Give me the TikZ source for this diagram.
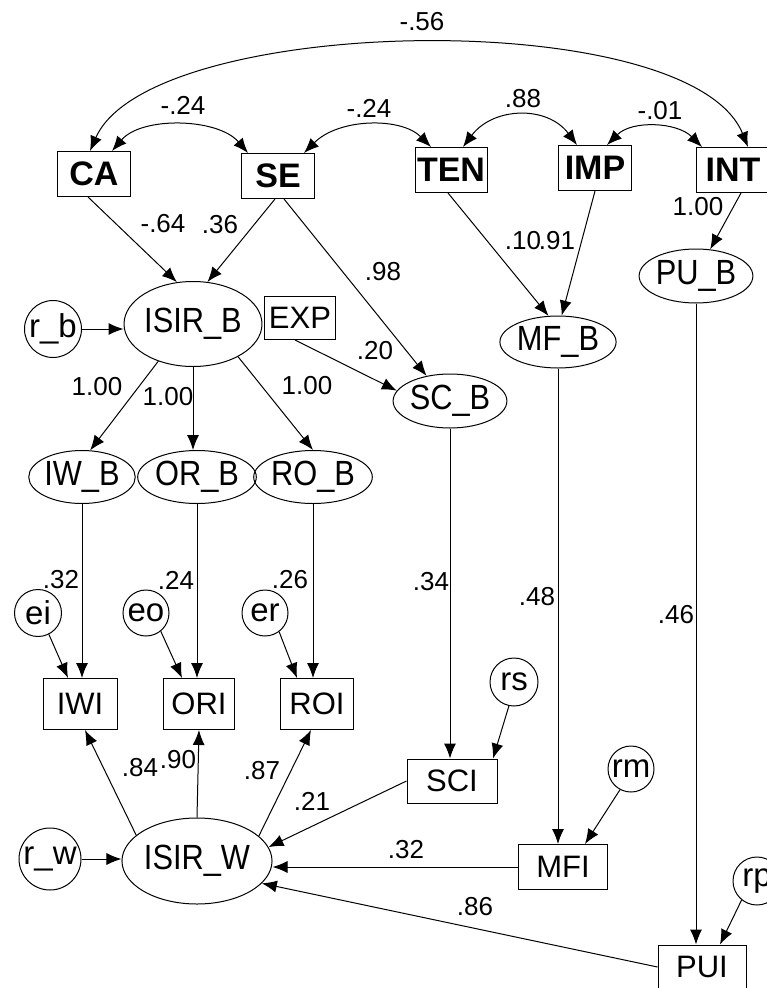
\documentclass[tikz,border=0pt]{standalone}
\usepackage{fontspec}
\setmainfont{Liberation Sans}
\newfontfamily\narrowfont[FakeStretch=0.88]{Liberation Sans}
\usetikzlibrary{arrows.meta,shapes.geometric}
\begin{document}
\begin{tikzpicture}[x=1pt,y=-1pt,
 line width=1pt,
 >={Latex[length=15pt,width=12pt]},
 obsb/.style={draw,rectangle,inner sep=0pt,font=\bfseries\fontsize{34}{34}\selectfont},
 obs/.style={draw,rectangle,inner sep=0pt,font=\fontsize{31}{31}\selectfont},
 lat/.style={draw,ellipse,inner sep=0pt,font=\narrowfont\fontsize{35}{35}\selectfont},
 err/.style={draw,circle,inner sep=0pt,font=\fontsize{33}{33}\selectfont},
 lbl/.style={inner sep=0pt,font=\fontsize{26}{26}\selectfont},
 arr/.style={->},
 cov/.style={<->}
]
\fill[white] (0,0) rectangle (766,988);
\useasboundingbox (0,0) rectangle (766,988);

% top observed
\node[obsb,minimum width=73pt,minimum height=45pt] (CA) at (94,174) {CA};
\node[obsb,minimum width=73pt,minimum height=45pt] (SE) at (278,176) {SE};
\node[obsb,minimum width=72pt,minimum height=45pt] (TEN) at (451,170) {TEN};
\node[obsb,minimum width=73pt,minimum height=45pt] (IMP) at (595,168) {IMP};
\node[obsb,minimum width=73pt,minimum height=45pt] (INT) at (733,170) {INT};

% latents
\node[lat,minimum width=106pt,minimum height=85pt] (ISIRB) at (193,324) {ISIR\_B};
\node[lat,minimum width=94pt,minimum height=54pt] (PUB) at (696,276) {PU\_B};
\node[lat,minimum width=95pt,minimum height=52pt] (MFB) at (558,342) {MF\_B};
\node[lat,minimum width=94pt,minimum height=54pt] (SCB) at (450,401) {SC\_B};
\node[lat,minimum width=93pt,minimum height=53pt] (IWB) at (82,477) {IW\_B};
\node[lat,minimum width=94pt,minimum height=53pt] (ORB) at (197,477) {OR\_B};
\node[lat,minimum width=95pt,minimum height=53pt] (ROB) at (313,477) {RO\_B};
\node[lat,minimum width=110pt,minimum height=86pt] (ISIRW) at (197,861) {ISIR\_W};

% observed
\node[obs,minimum width=71pt,minimum height=43pt] (EXP) at (300,318) {EXP};
\node[obs,minimum width=74pt,minimum height=51pt] (IWI) at (80,704) {IWI};
\node[obs,minimum width=71pt,minimum height=51pt] (ORI) at (199,704) {ORI};
\node[obs,minimum width=73pt,minimum height=51pt] (ROI) at (317,704) {ROI};
\node[obs,minimum width=90pt,minimum height=44pt] (SCI) at (452,781) {SCI};
\node[obs,minimum width=89pt,minimum height=45pt] (MFI) at (563,867) {MFI};
\node[obs,minimum width=88pt,minimum height=44pt] (PUI) at (702,967) {PUI};

% errors
\node[err,minimum size=57pt] (rb) at (53,329) {r\_b};
\node[err,minimum size=47pt] (ei) at (38,613) {ei};
\node[err,minimum size=46pt] (eo) at (146,613) {eo};
\node[err,minimum size=46pt] (er) at (265,613) {er};
\node[err,minimum size=62pt] (rw) at (50,859) {r\_w};
\node[err,minimum size=48pt] (rs) at (514,682) {rs};
\node[err,minimum size=46pt] (rm) at (631,769) {rm};
\node[err,minimum size=48pt] (rp) at (757,881) {rp};

% paths
\draw[arr] ([xshift=-6pt]CA.south) -- (ISIRB.111);
\draw[arr] ([xshift=-3pt]SE.south) -- (ISIRB.71);
\draw[arr] ([xshift=6pt]SE.south) -- (SCB.133);
\draw[arr] ([xshift=-5pt]EXP.south) -- (SCB.169);
\draw[arr] ([xshift=-3pt]TEN.south) -- (MFB.110);
\draw[arr] (IMP.south) -- (MFB.82);
\draw[arr] ([xshift=8pt]INT.south) -- (PUB.62);
\draw[arr] (rb.east) -- (rb.east -| ISIRB.west);
\draw[arr] (ISIRB.227) -- (IWB.73);
\draw[arr] (ISIRB.south) -- (ISIRB.south |- ORB.north);
\draw[arr] (ISIRB.-36) -- (ROB.north);
\draw[arr] (IWB.south) -- (IWB.south |- IWI.north);
\draw[arr] (ORB.south) -- (ORB.south |- ORI.north);
\draw[arr] (ROB.south) -- (ROB.south |- ROI.north);
\draw[arr] (ei.-63) -- ([xshift=-12pt]IWI.north);
\draw[arr] (eo.-51) -- ([xshift=-17pt]ORI.north);
\draw[arr] (er.-53) -- ([xshift=-20pt]ROI.north);
\draw[arr] (ISIRW.157) -- ([xshift=5pt]IWI.south);
\draw[arr] (ISIRW.north) -- (ORI.south);
\draw[arr] (ISIRW.22) -- ([xshift=-6pt]ROI.south);
\draw[arr] (SCI.west) -- (ISIRW.11);
\draw[arr] (MFI.west) -- (MFI.west -| ISIRW.east);
\draw[arr] (PUI.west) -- (ISIRW.-19);
\draw[arr] (SCB.south) -- (SCB.south |- SCI.north);
\draw[arr] (rs.-102) -- ([xshift=41pt]SCI.north);
\draw[arr] (MFB.south) -- (MFB.south |- MFI.north);
\draw[arr] (rm.-118) -- ([xshift=22pt]MFI.north);
\draw[arr] (PUB.south) -- (PUB.south |- PUI.north);
\draw[arr] (rp.-129) -- ([xshift=18pt]PUI.north);
\draw[arr] (rw.east) -- (rw.east -| ISIRW.west);

% covariances
\draw[cov] ([xshift=18pt]CA.north) .. controls +(30,-35) and +(-30,-35) .. ([xshift=-30pt]SE.north);
\draw[cov] ([xshift=26pt]SE.north) .. controls +(35,-35) and +(-30,-30) .. ([xshift=-20pt]TEN.north);
\draw[cov] ([xshift=12pt]TEN.north) .. controls +(30,-40) and +(-30,-40) .. ([xshift=-18pt]IMP.north);
\draw[cov] ([xshift=12pt]IMP.north) .. controls +(25,-25) and +(-25,-25) .. ([xshift=-31pt]INT.north);
\draw[cov] ([xshift=-4pt]CA.north) .. controls +(60,-137) and +(-58,-143) .. ([xshift=15pt]INT.north);

% labels
\node[lbl] (l1) at (422,22) {-.56};
\node[lbl] (l2) at (183,105) {-.24};
\node[lbl] (l3) at (369,108) {-.24};
\node[lbl] (l4) at (523,99) {.88};
\node[lbl] (l5) at (660,111) {-.01};
\node[lbl] (l6) at (698,207) {1.00};
\node[lbl] (l7) at (523,241) {.10};
\node[lbl] (l8) at (557,241) {.91};
\node[lbl] (l9) at (163,224) {-.64};
\node[lbl] (l10) at (220,225) {.36};
\node[lbl] (l11) at (383,272) {.98};
\node[lbl] (l12) at (375,351) {.20};
\node[lbl] (l13) at (97,387) {1.00};
\node[lbl] (l14) at (168,397) {1.00};
\node[lbl] (l15) at (307,386) {1.00};
\node[lbl] (l16) at (61,580) {.32};
\node[lbl] (l17) at (176,580) {.24};
\node[lbl] (l18) at (290,580) {.26};
\node[lbl] (l19) at (431,582) {.34};
\node[lbl] (l20) at (537,597) {.48};
\node[lbl] (l21) at (676,615) {.46};
\node[lbl] (l22) at (140,768) {.84};
\node[lbl] (l23) at (178,760) {.90};
\node[lbl] (l24) at (262,771) {.87};
\node[lbl] (l25) at (312,801) {.21};
\node[lbl] (l26) at (406,850) {.32};
\node[lbl] (l27) at (475,907) {.86};
\end{tikzpicture}
\end{document}
